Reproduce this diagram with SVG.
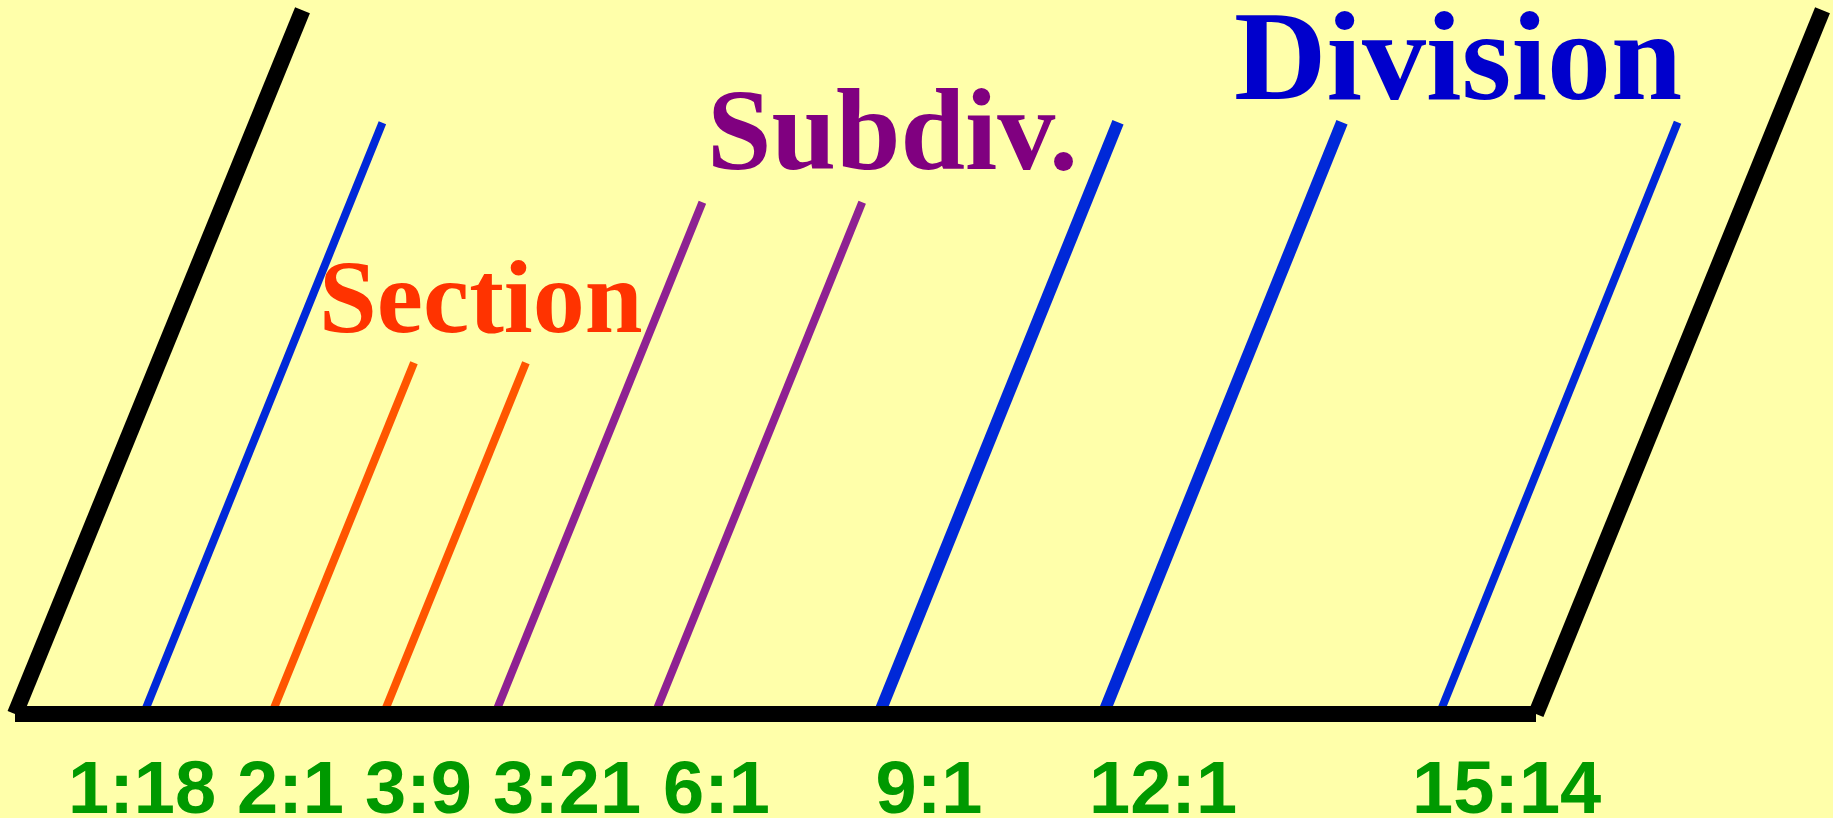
<svg xmlns="http://www.w3.org/2000/svg" width="1833" height="818" viewBox="0 0 1833 818">
<style>
.frame{stroke:#000000;stroke-width:16;stroke-linecap:butt;fill:none}
.thin{stroke-width:8;stroke-linecap:butt;fill:none}
.thick{stroke-width:12;stroke-linecap:butt;fill:none}
.blue{stroke:#0028D8}
.orange{stroke:#FF5500}
.purple{stroke:#8E2192}
.title{font-family:"Liberation Serif","Times New Roman",serif;font-weight:bold}
.lbl{font-family:"Liberation Sans",Arial,sans-serif;font-weight:bold;font-size:74px;fill:#009900}
</style>
<rect x="0" y="0" width="1833" height="818" fill="#FFFFAA"/>
<g id="connectors">
  <line class="thin blue" x1="143.6" y1="714" x2="382.4" y2="122.7"/>
  <line class="thin orange" x1="271.6" y1="714" x2="414" y2="362.7"/>
  <line class="thin orange" x1="383.5" y1="714" x2="525.9" y2="362.7"/>
  <line class="thin purple" x1="495" y1="714" x2="702.4" y2="202.3"/>
  <line class="thin purple" x1="654.9" y1="714" x2="862.2" y2="202.3"/>
  <line class="thick blue" x1="879.1" y1="714" x2="1118" y2="122.3"/>
  <line class="thick blue" x1="1103.3" y1="714" x2="1342" y2="122.3"/>
  <line class="thin blue" x1="1439.4" y1="714" x2="1677.6" y2="122.3"/>
</g>
<g id="frame">
  <line class="frame" x1="15" y1="714" x2="302.5" y2="10.3"/>
  <line class="frame" x1="1536" y1="714" x2="1822.5" y2="10.3"/>
  <line class="frame" x1="15" y1="714" x2="1536" y2="714"/>
</g>
<g id="section">
  <text class="title" x="319" y="332" font-size="104" fill="#FF3300">Section</text>
</g>
<g id="subdiv">
  <text class="title" x="707" y="168.5" font-size="116" fill="#800080">Subdiv.</text>
</g>
<g id="division">
  <text class="title" x="1234" y="99" font-size="128" fill="#0000CC">Division</text>
</g>
<g id="labels">
  <text class="lbl" x="68" y="813">1:18</text>
  <text class="lbl" x="237" y="813">2:1</text>
  <text class="lbl" x="365" y="813">3:9</text>
  <text class="lbl" x="493" y="813">3:21</text>
  <text class="lbl" x="663" y="813">6:1</text>
  <text class="lbl" x="875.5" y="813">9:1</text>
  <text class="lbl" x="1089" y="813">12:1</text>
  <text class="lbl" x="1412" y="813">15:14</text>
</g>
</svg>
